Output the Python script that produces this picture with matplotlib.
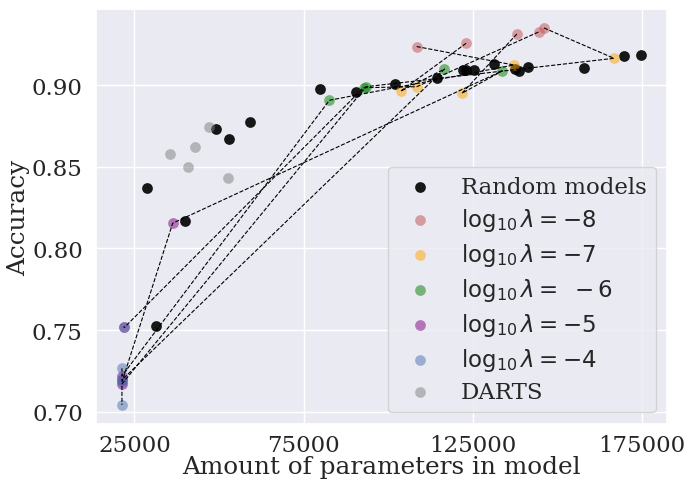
import numpy as np
import matplotlib
matplotlib.use("Agg")
import matplotlib.pyplot as plt
import seaborn as sns

sns.set(style="darkgrid", font="serif", font_scale=1.5)

# random architectures
random_params = [28700, 31500, 39800, 49100, 53000, 59200, 79800, 90500, 102000, 114300,
                 122100, 123000, 125400, 131300, 137400, 138700, 141200, 157900, 169600, 174800]
random_acc = [0.8371, 0.7525, 0.8170, 0.8735, 0.8668, 0.8775, 0.8976, 0.8960, 0.9005, 0.9046,
              0.9094, 0.9092, 0.9092, 0.9133, 0.9098, 0.9088, 0.9114, 0.9104, 0.9177, 0.9184]

# DARTS runs
darts_params = [47100, 43000, 35500, 40700, 52600]
darts_acc = [0.8747, 0.8621, 0.8580, 0.8500, 0.8431]

# regularised search, one entry per seed (same order in every list)
log_lambdas = [-8, -7, -6, -5, -4]
reg_params = {
    -8: [108400, 123000, 138000, 144400, 146000],
    -7: [137100, 103700, 121800, 108400, 166700],
    -6: [82600, 116600, 133700, 92700, 93400],
    -5: [21300, 21300, 36300, 22000, 21300],
    -4: [21300, 21300, 21300, 21800, 21300],
}
reg_acc = {
    -8: [0.9237, 0.9257, 0.9314, 0.9326, 0.9351],
    -7: [0.9124, 0.8964, 0.8951, 0.8991, 0.9165],
    -6: [0.8908, 0.9099, 0.9088, 0.8985, 0.8991],
    -5: [0.7219, 0.7195, 0.8155, 0.7516, 0.7170],
    -4: [0.7266, 0.7201, 0.7182, 0.7522, 0.7042],
}
lam_colors = {-8: "#C44E52", -7: "orange", -6: "green", -5: "purple", -4: "#4C72B0"}
lam_labels = {
    -8: r"$\log_{10}\lambda = -8$",
    -7: r"$\log_{10}\lambda = -7$",
    -6: r"$\log_{10}\lambda = \ -6$",
    -5: r"$\log_{10}\lambda = -5$",
    -4: r"$\log_{10}\lambda = -4$",
}

fig, ax = plt.subplots(figsize=(6.88, 4.81), dpi=100)
fig.subplots_adjust(left=0.1395, right=0.970, bottom=0.117, top=0.979)

ax.scatter(random_params, random_acc, s=60, color="black", alpha=0.9, linewidths=0,
           label="Random models")
for lam in log_lambdas:
    ax.scatter(reg_params[lam], reg_acc[lam], s=60, color=lam_colors[lam], alpha=0.5,
               linewidths=0, label=lam_labels[lam])
ax.scatter(darts_params, darts_acc, s=60, color="gray", alpha=0.5, linewidths=0, label="DARTS")

# connect each seed across lambdas
n_seeds = len(reg_params[-8])
for i in range(n_seeds):
    xs = [reg_params[lam][i] for lam in log_lambdas]
    ys = [reg_acc[lam][i] for lam in log_lambdas]
    ax.plot(xs, ys, "--", color="black", lw=0.8, zorder=3)

ax.set_xticks([25000, 75000, 125000, 175000])
ax.tick_params(axis="x", pad=1.5)
ax.set_xlabel("Amount of parameters in model", fontsize=17.8, labelpad=-0.5)
ax.set_ylabel("Accuracy", fontsize=17.8, labelpad=1)
ax.legend(loc="lower right", labelspacing=0.35)

fig.savefig("out.png", dpi=100)
